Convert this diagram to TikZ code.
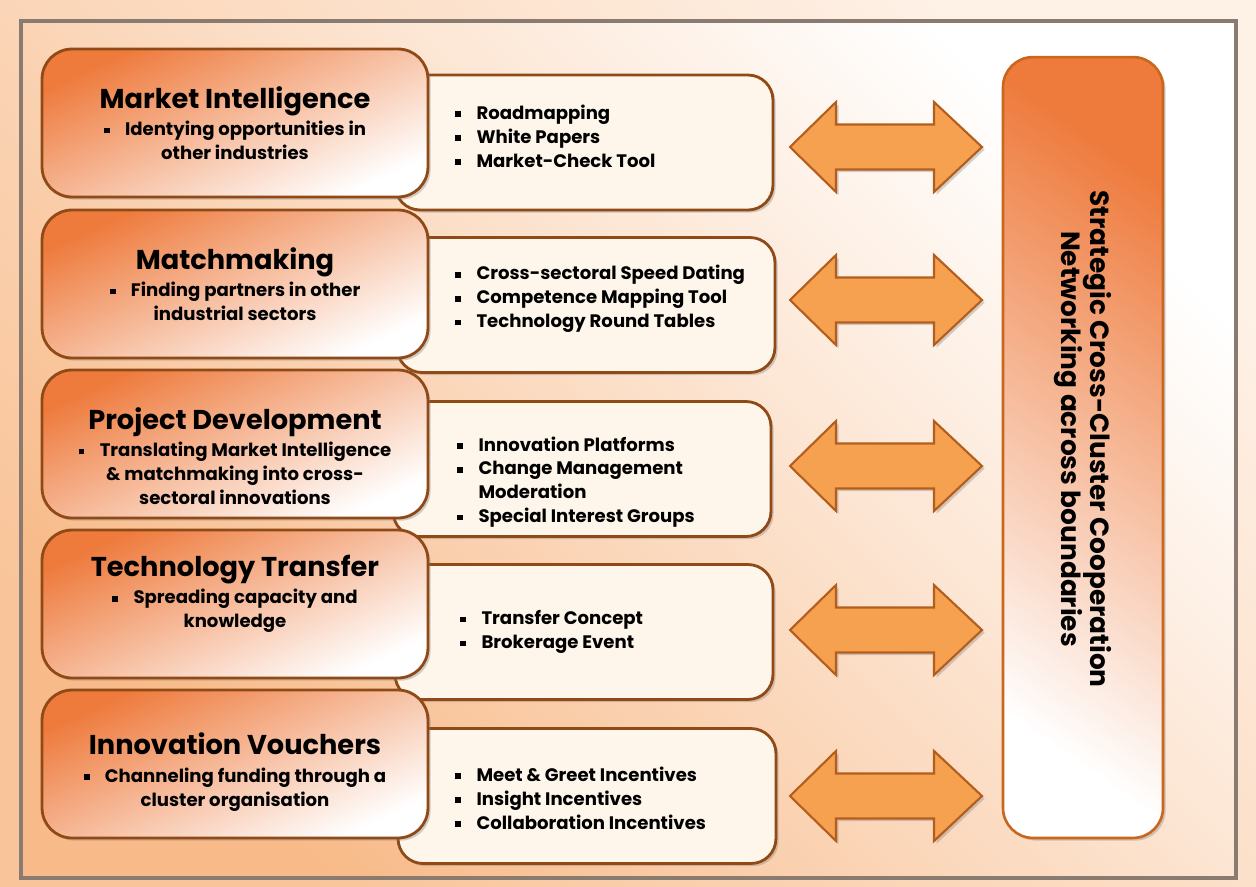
\documentclass[tikz,border=0pt]{standalone}
\usepackage{fontspec}
\setmainfont{Poppins}
\usetikzlibrary{shadows}
\definecolor{peach}{HTML}{F8BA88}
\definecolor{paper}{HTML}{FEF1E6}
\definecolor{cream}{HTML}{FEF6EA}
\definecolor{salmon}{HTML}{EE7A3C}
\definecolor{rim}{HTML}{8F4A17}
\definecolor{framegray}{HTML}{8A7B70}
\definecolor{arrfill}{HTML}{F6A14F}
\definecolor{arrrim}{HTML}{B45E1E}
\definecolor{sccrim}{HTML}{C9671F}
\newcommand\itembul{\rule[0.22ex]{0.32em}{0.32em}\hspace{0.85em}}
\newcommand\itemgap{\hspace{1.17em}}
\newcommand\boxtitle[1]{{\fontsize{15.5}{18}\selectfont #1}\\[2pt]}
\tikzset{
  shd/.style={drop shadow={shadow xshift=1.5pt,shadow yshift=-1.5pt,opacity=.35}},
  task/.style={shd,rounded corners=.6cm,draw=rim,line width=1.6pt,
    top color=salmon,middle color=salmon!35!white,bottom color=white,shading angle=25,
    minimum width=7.72cm,minimum height=2.96cm},
  tasktext/.style={align=center,inner sep=0,
    font=\fontsize{10.3}{13.6}\selectfont\bfseries},
  tools/.style={shd,rounded corners=.5cm,draw=rim,line width=1.6pt,fill=cream,
    minimum width=7.56cm,minimum height=2.7cm},
  toollist/.style={anchor=west,inner sep=0,align=left,
    font=\fontsize{10.3}{13.6}\selectfont\bfseries},
  link/.style={shd,fill=arrfill,draw=arrrim,line width=1.2pt,line join=miter},
  scc/.style={shd,rounded corners=.6cm,draw=sccrim,line width=1.5pt,
    top color=salmon,middle color=salmon!38!white,bottom color=white,shading angle=-35,
    minimum width=3.2cm,minimum height=15.62cm},
  scctext/.style={rotate=-90,align=center,inner sep=0,
    font=\fontsize{15}{16.5}\selectfont\bfseries}
}

\begin{document}
\begin{tikzpicture}[x=0.02cm,y=-0.02cm]
  \useasboundingbox (0,0) rectangle (1256,886);
  \shade[top color=paper,bottom color=peach!85,shading angle=-45] (0,0) rectangle (1256,886);
  \draw[framegray,line width=1.8pt,top color=white,bottom color=peach,shading angle=-45] (21,21) rectangle (1236,878);

  \node[tools] (rm) at (584,142.5) {};
  \node[tools] (cs) at (586,305) {};
  \node[tools] (ip) at (582,469) {};
  \node[tools] (tc) at (584,632) {};
  \node[tools] (mg) at (587,796) {};

  \node[toollist] (rmlist) at (455,136) {\itembul Roadmapping\\ \itembul White Papers\\ \itembul Market-Check Tool};
  \node[toollist] (cslist) at (455,299) {\itembul Cross-sectoral Speed Dating\\ \itembul Competence Mapping Tool\\ \itembul Technology Round Tables};
  \node[toollist] (iplist) at (457,482) {\itembul Innovation Platforms\\ \itembul Change Management\\ \itemgap Moderation\\ \itembul Special Interest Groups};
  \node[toollist] (tclist) at (460,632) {\itembul Transfer Concept\\ \itembul Brokerage Event};
  \node[toollist] (mglist) at (455,798) {\itembul Meet \& Greet Incentives\\ \itembul Insight Incentives\\ \itembul Collaboration Incentives};

  \node[task] (mi) at (235,123) {};
  \node[task] (mm) at (235,284) {};
  \node[task] (pd) at (235,444) {};
  \node[task] (tt) at (235,604) {};
  \node[task] (iv) at (235,764) {};

  \node[tasktext] (mitext) at (235,123) {\boxtitle{Market Intelligence}\itembul Identying opportunities in\\ other industries};
  \node[tasktext] (mmtext) at (235,284) {\boxtitle{Matchmaking}\itembul Finding partners in other\\ industrial sectors};
  \node[tasktext] (pdtext) at (235,456) {\boxtitle{Project Development}\itembul Translating Market Intelligence\\ \& matchmaking into cross-\\ sectoral innovations};
  \node[tasktext] (tttext) at (235,594) {\boxtitle{Technology Transfer}\itembul Spreading capacity and\\ knowledge};
  \node[tasktext] (ivtext) at (235,772) {\boxtitle{Innovation Vouchers}\itembul Channeling funding through a\\ cluster organisation};

  \foreach \y in {147,300,466,630,796}
    \draw[link] (790,\y) -- ++(46,-45) -- ++(0,22.5) -- ++(98,0) -- ++(0,-22.5)
      -- ++(48,45) -- ++(-48,45) -- ++(0,-22.5) -- ++(-98,0) -- ++(0,22.5) -- cycle;

  \node[scc] (scc) at (1083,447.5) {};
  \node[scctext] (scct) at (1083,439) {Strategic Cross-Cluster Cooperation\\ Networking across boundaries};
\end{tikzpicture}
\end{document}
